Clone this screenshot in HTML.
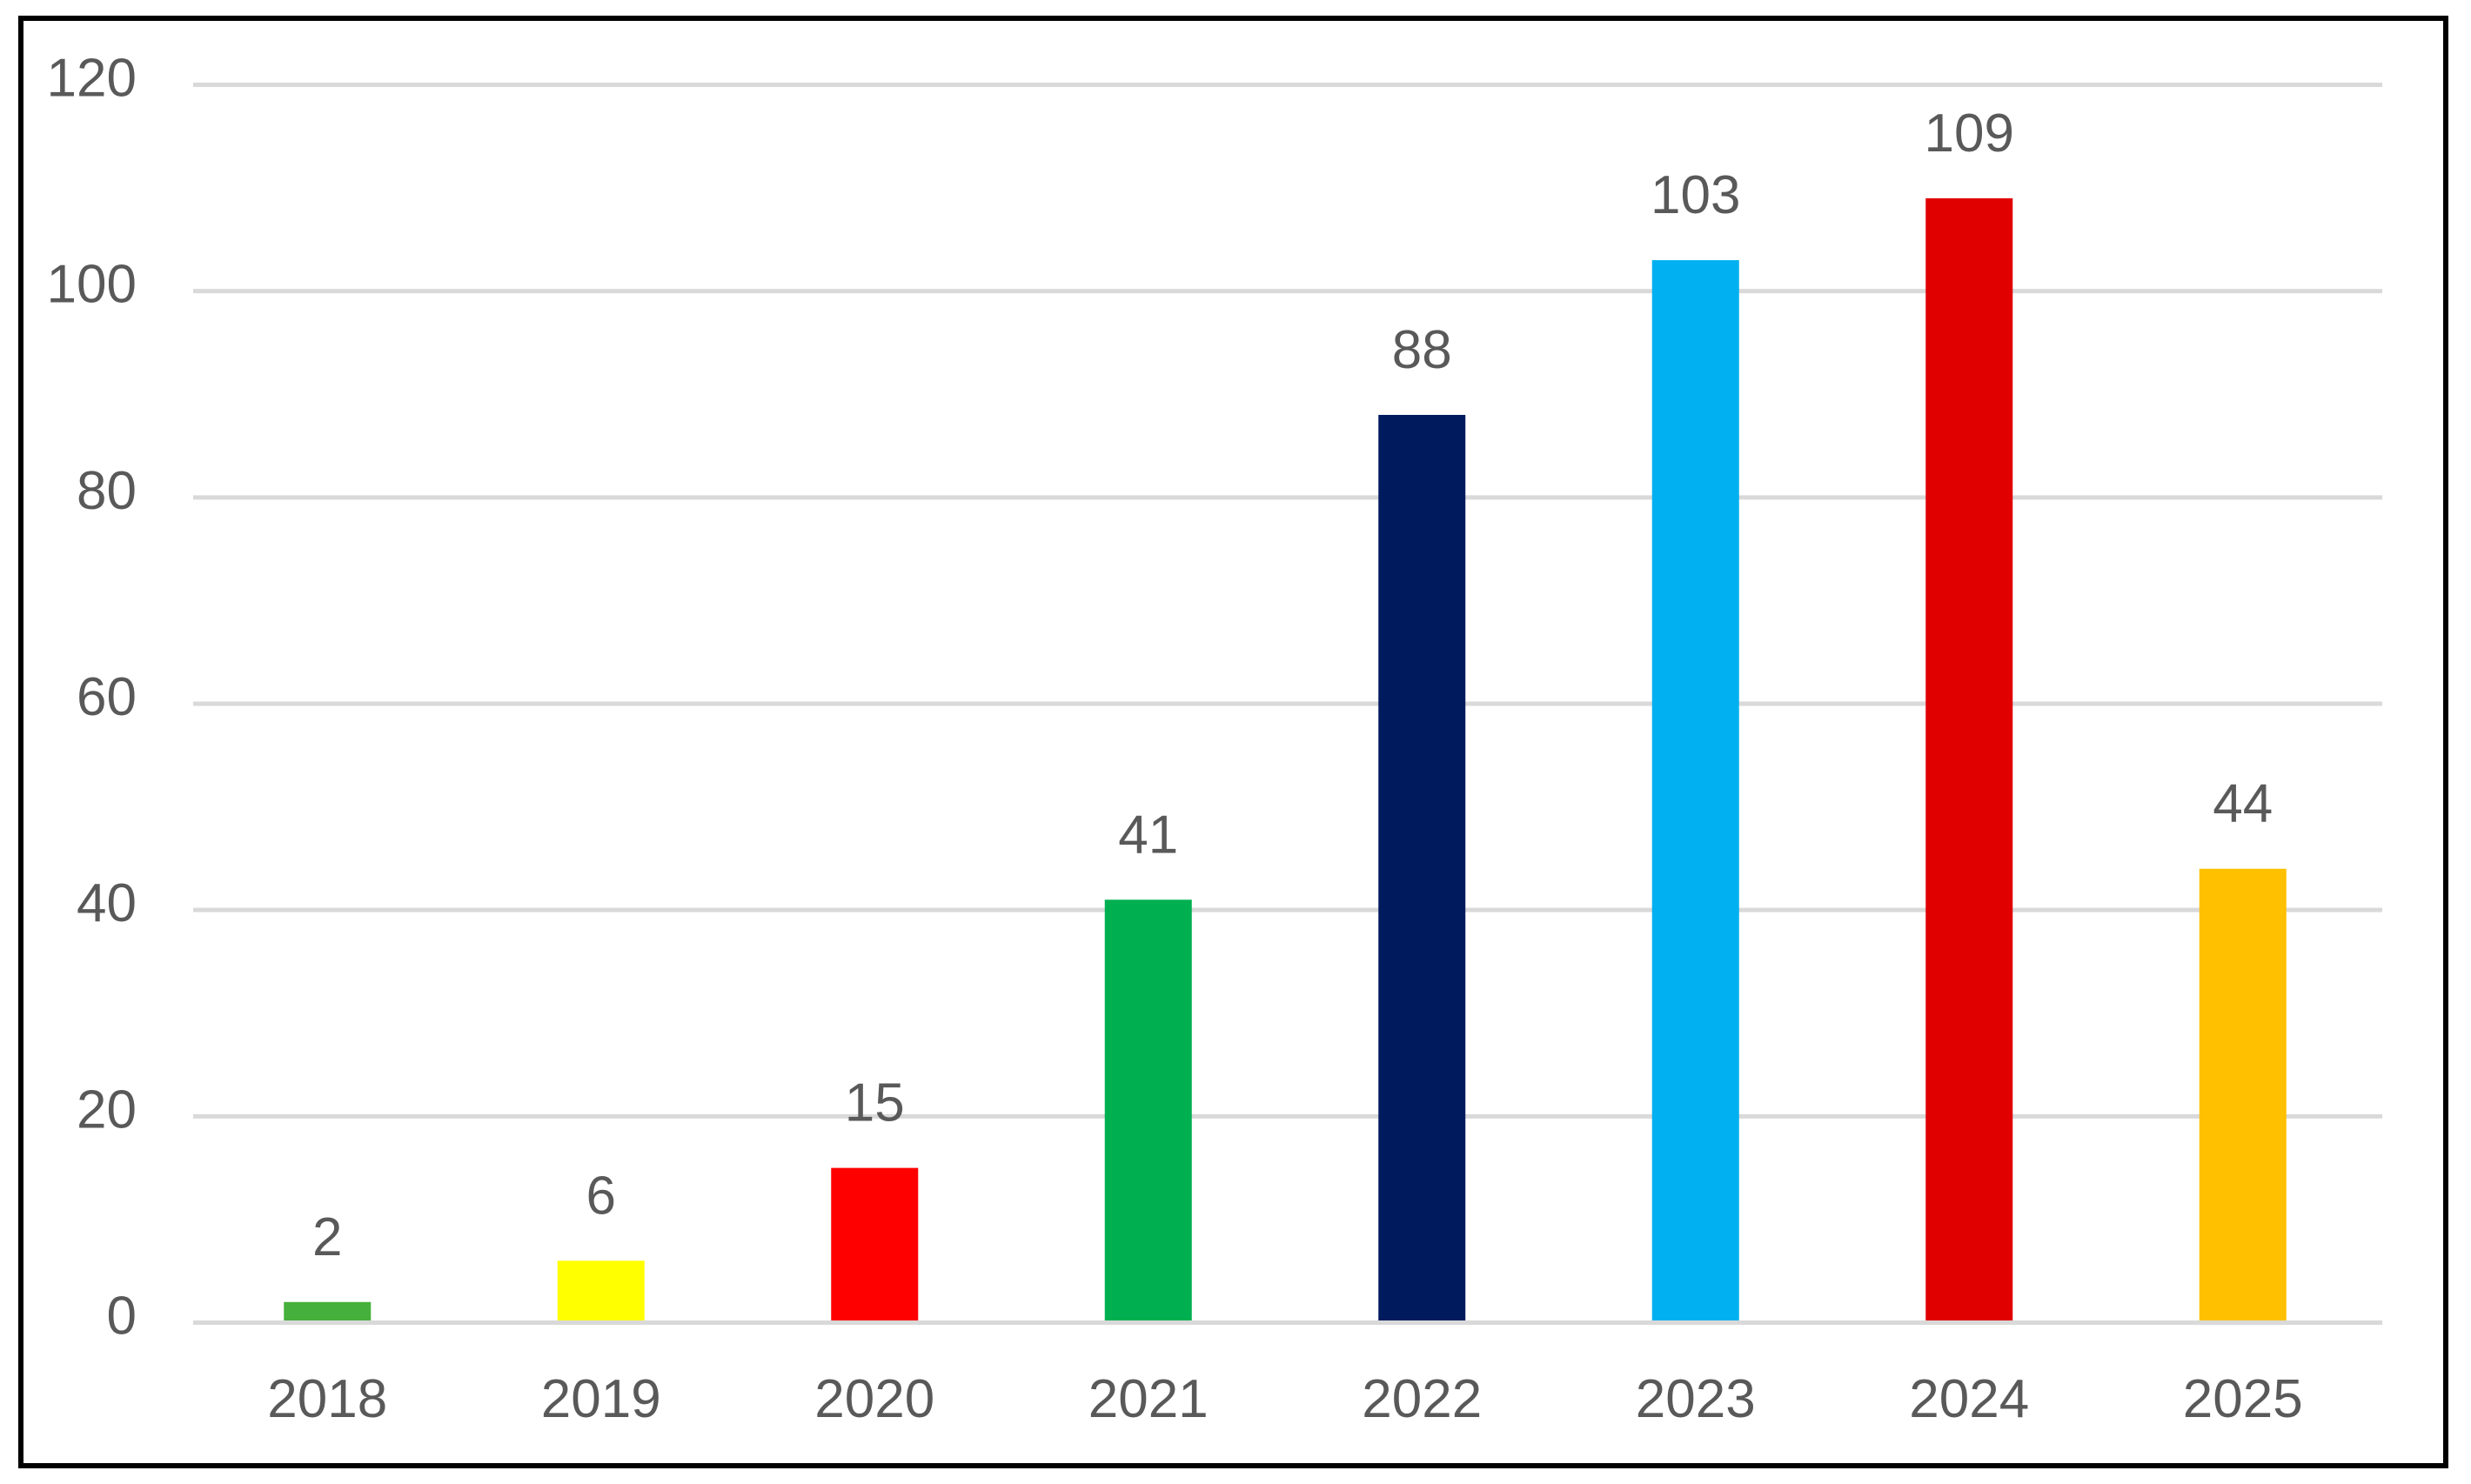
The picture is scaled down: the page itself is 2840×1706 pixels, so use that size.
<!DOCTYPE html>
<html><head><meta charset="utf-8"><style>
html,body{margin:0;padding:0;background:#fff;}
svg{display:block;}
text{font-family:"Liberation Sans",Arial,sans-serif;fill:#595959;}
</style></head>
<body>
<svg id="chart" width="2840" height="1706" viewBox="0 0 2840 1706" xmlns="http://www.w3.org/2000/svg">
<rect x="24" y="21" width="2787" height="1664" fill="#fff" stroke="#000" stroke-width="6"/>
<g id="grid"></g><g id="bars"></g><g id="labels"></g>
</svg>
<script>
const categories = ["2018","2019","2020","2021","2022","2023","2024","2025"];
const values = [2, 6, 15, 41, 88, 103, 109, 44];
const colors = ["#46b03c","#ffff00","#ff0000","#00b050","#001a5e","#00b0f0","#e00000","#ffc000"];
const yTicks = [0, 20, 40, 60, 80, 100, 120];

const NS = "http://www.w3.org/2000/svg";
const plotLeft = 222, plotRight = 2738, y0 = 1520.5, y120 = 97.5, yMax = 120;
const band = (plotRight - plotLeft) / categories.length;
const barW = 100;
function yScale(v){ return y0 - (y0 - y120) * v / yMax; }
function xCenter(i){ return plotLeft - 3 + band * (i + 0.5); }
function mk(tag, attrs){ const e = document.createElementNS(NS, tag); for (const k in attrs) e.setAttribute(k, attrs[k]); return e; }

const grid = document.getElementById('grid');
const bars = document.getElementById('bars');
const labels = document.getElementById('labels');

yTicks.forEach(t => {
  const y = yScale(t);
  const ln = mk('line', {x1: plotLeft, x2: plotRight, y1: y, y2: y, stroke: '#d9d9d9', 'stroke-width': 5});
  
  
  grid.appendChild(ln);
  const tx = mk('text', {x: 157, y: y + 13, 'text-anchor': 'end', 'font-size': 62});
  tx.textContent = t;
  
  
  labels.appendChild(tx);
});

categories.forEach((c, i) => {
  const cx = xCenter(i);
  const top = yScale(values[i]);
  const r = mk('rect', {x: cx - barW/2, y: top, width: barW, height: y0 - 2.5 - top, fill: colors[i]});
  
  
  bars.appendChild(r);
  const v = mk('text', {x: cx, y: top - 54, 'text-anchor': 'middle', 'font-size': 62});
  v.textContent = values[i];
  
  
  labels.appendChild(v);
  const xl = mk('text', {x: cx, y: 1629, 'text-anchor': 'middle', 'font-size': 62});
  xl.textContent = c;
  
  
  labels.appendChild(xl);
});
</script>
</body></html>
